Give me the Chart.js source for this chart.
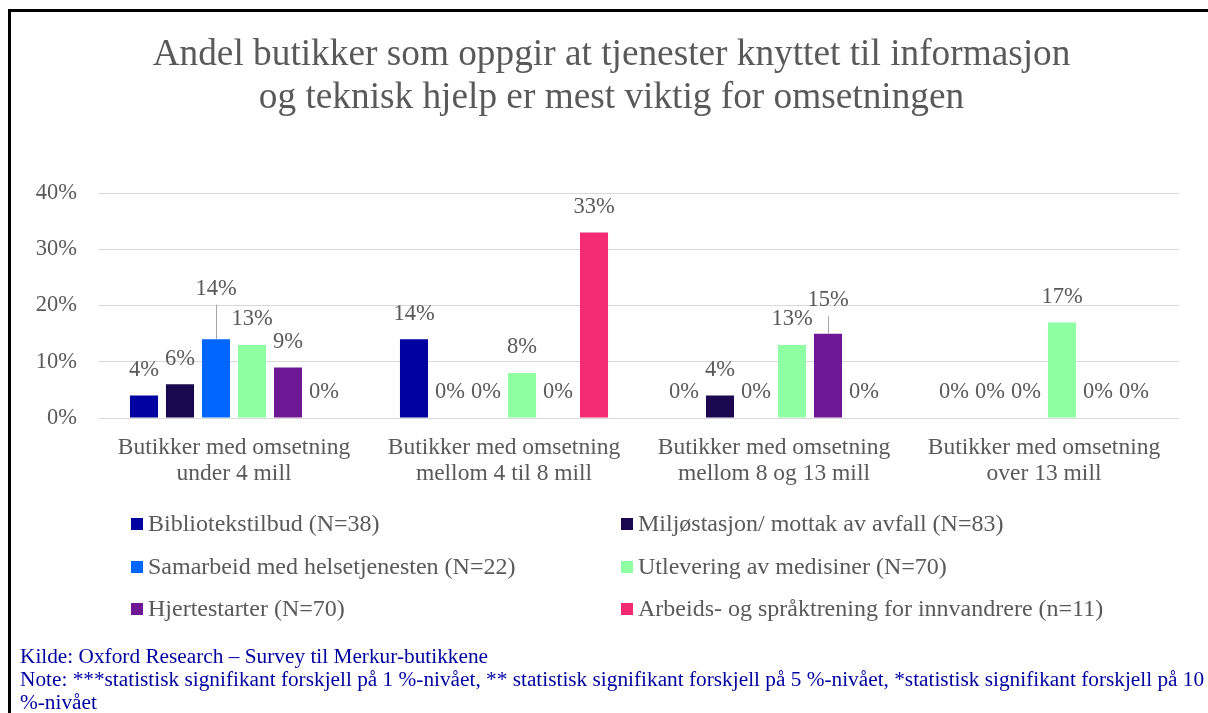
<!DOCTYPE html>
<html>
<head>
<meta charset="utf-8">
<script src="https://cdn.jsdelivr.net/npm/chart.js@4"></script>
<style>
  html, body { margin: 0; padding: 0; background: #fff; }
  #wrap { position: relative; width: 1208px; height: 713px; overflow: hidden; }
  #c { position: absolute; left: 0; top: 0; }
  #frame { position: absolute; left: 8px; top: 9px; right: -10px; bottom: -10px;
           border-top: 3px solid #000; border-left: 3px solid #000; pointer-events: none; }
  #foot { position: absolute; left: 20px; top: 645px; font-family: "Liberation Serif", "Times New Roman", serif;
          font-size: 21.3px; line-height: 23px; color: #0000A0; white-space: nowrap; }
</style>
</head>
<body>
<div id="wrap">
  <canvas id="c" width="1208" height="713"></canvas>
  <div id="frame"></div>
  <div id="foot">Kilde: Oxford Research – Survey til Merkur-butikkene<br>Note: ***statistisk signifikant forskjell på 1 %-nivået, ** statistisk signifikant forskjell på 5 %-nivået, *statistisk signifikant forskjell på 10<br>%-nivået</div>
</div>
<script>
const titleLines = [
  "Andel butikker som oppgir at tjenester knyttet til informasjon",
  "og teknisk hjelp er mest viktig for omsetningen"
];
const categories = [
  ["Butikker med omsetning", "under 4 mill"],
  ["Butikker med omsetning", "mellom 4 til 8 mill"],
  ["Butikker med omsetning", "mellom 8 og 13 mill"],
  ["Butikker med omsetning", "over 13 mill"]
];
const seriesNames = [
  "Bibliotekstilbud (N=38)",
  "Miljøstasjon/ mottak av avfall (N=83)",
  "Samarbeid med helsetjenesten (N=22)",
  "Utlevering av medisiner (N=70)",
  "Hjertestarter (N=70)",
  "Arbeids- og språktrening for innvandrere (n=11)"
];
const bibliotek = [4, 14, 0, 0];
const miljo = [6, 0, 4, 0];
const samarbeid = [14, 0, 0, 0];
const utlevering = [13, 8, 13, 17];
const hjerte = [9, 0, 15, 0];
const arbeid = [0, 33, 0, 0];
const yTicks = [0, 10, 20, 30, 40];

const seriesValues = [bibliotek, miljo, samarbeid, utlevering, hjerte, arbeid];
const seriesColors = ["#0000A0", "#1B074D", "#0066FF", "#8FFFA3", "#6E1896", "#F42A72"];

const FONT = '"Liberation Serif", "Times New Roman", serif';
const TXT = "#595959";

const titlePlugin = {
  id: "fixedTitle",
  afterDraw(chart, args, opts) {
    const ctx = chart.ctx;
    ctx.save();
    ctx.font = opts.fontSize + "px " + FONT;
    ctx.fillStyle = TXT;
    ctx.textAlign = "center";
    ctx.textBaseline = "middle";
    opts.lines.forEach((t, i) => ctx.fillText(t, opts.x, opts.y + i * opts.lineStep));
    ctx.restore();
  }
};

const dataLabelPlugin = {
  id: "dataLabels",
  afterDatasetsDraw(chart, args, opts) {
    const ctx = chart.ctx;
    ctx.save();
    ctx.font = opts.fontSize + "px " + FONT;
    ctx.fillStyle = TXT;
    ctx.textAlign = "center";
    ctx.textBaseline = "middle";
    chart.data.datasets.forEach((ds, di) => {
      const meta = chart.getDatasetMeta(di);
      meta.data.forEach((bar, i) => {
        const key = di + "-" + i;
        const dy = (opts.moved[key] || 0);
        const y = bar.y - opts.gap + dy;
        if (dy !== 0) {
          ctx.strokeStyle = "#A6A6A6";
          ctx.lineWidth = 1;
          ctx.beginPath();
          ctx.moveTo(Math.round(bar.x) + 0.5, y + 16);
          ctx.lineTo(Math.round(bar.x) + 0.5, bar.y);
          ctx.stroke();
        }
        ctx.fillText(ds.data[i] + "%", bar.x, y);
      });
    });
    ctx.restore();
  }
};

const legendPlugin = {
  id: "gridLegend",
  afterDraw(chart, args, opts) {
    const ctx = chart.ctx;
    ctx.save();
    ctx.font = opts.fontSize + "px " + FONT;
    ctx.textBaseline = "middle";
    ctx.textAlign = "left";
    chart.data.datasets.forEach((ds, di) => {
      const col = di % 2, row = Math.floor(di / 2);
      const x = opts.cols[col], y = opts.rows[row];
      ctx.fillStyle = ds.backgroundColor;
      ctx.fillRect(x, y - opts.box / 2, opts.box, opts.box);
      ctx.fillStyle = TXT;
      ctx.fillText(ds.label, x + opts.textOffset, y + 1);
    });
    ctx.restore();
  }
};

new Chart(document.getElementById("c"), {
  type: "bar",
  data: {
    labels: categories,
    datasets: seriesNames.map((name, i) => ({
      label: name,
      data: seriesValues[i],
      backgroundColor: seriesColors[i],
      borderWidth: 0,
      categoryPercentage: 0.8,
      barPercentage: 0.78
    }))
  },
  options: {
    responsive: false,
    animation: false,
    devicePixelRatio: 1,
    layout: { padding: { left: 36, right: 29, top: 193, bottom: 220 } },
    plugins: {
      legend: { display: false },
      tooltip: { enabled: false },
      title: { display: false },
      fixedTitle: { lines: titleLines, fontSize: 37.3, x: 611.5, y: 55, lineStep: 43.3 },
      dataLabels: { fontSize: 22.5, gap: 25.5, moved: { "2-0": -25, "4-2": -8 } },
      gridLegend: { fontSize: 24, cols: [131, 621], rows: [524, 567, 609], box: 12, textOffset: 17 }
    },
    scales: {
      x: {
        grid: { display: false, drawTicks: false },
        border: { display: false },
        ticks: {
          color: TXT, font: { family: FONT, size: 23.5, lineHeight: 1.1 },
          padding: 17, maxRotation: 0, autoSkip: false
        },
        afterFit(scale) { scale.height = 75; }
      },
      y: {
        min: 0, max: 40,
        afterBuildTicks(scale) { scale.ticks = yTicks.map(v => ({ value: v })); },
        grid: { color: "#D9D9D9", lineWidth: 1, drawTicks: false },
        border: { display: false },
        ticks: {
          color: TXT, font: { family: FONT, size: 22.5 }, padding: 22,
          callback: v => v + "%"
        },
        afterFit(scale) { scale.width = 63; }
      }
    }
  },
  plugins: [titlePlugin, dataLabelPlugin, legendPlugin]
});
</script>
</body>
</html>
